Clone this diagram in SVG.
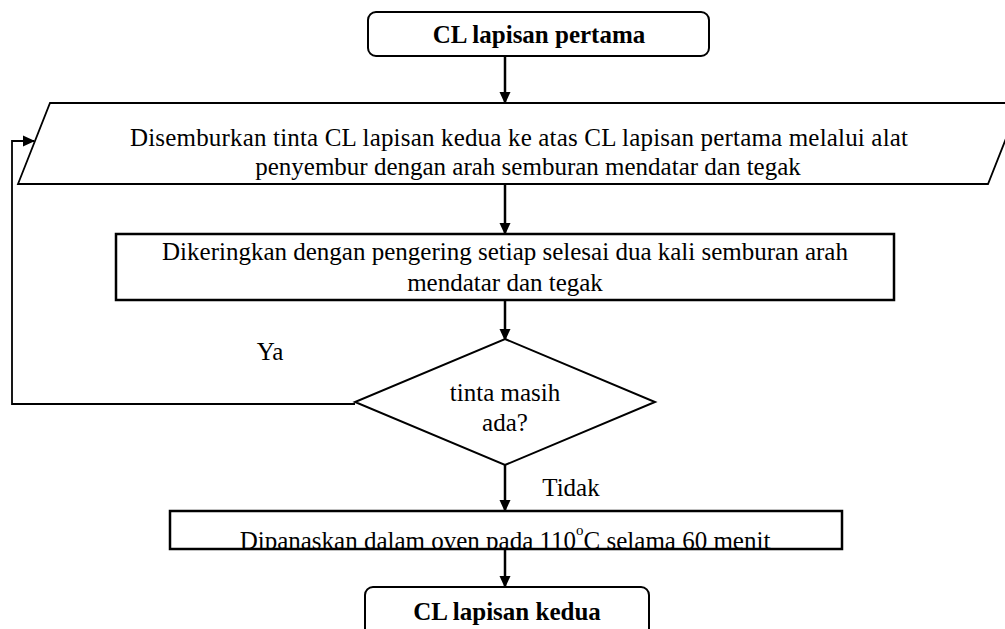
<svg xmlns="http://www.w3.org/2000/svg" width="1005" height="629" viewBox="0 0 1005 629">
<style>
.t{font-family:"Liberation Serif","Times New Roman",serif;font-size:25px;fill:#000;text-anchor:middle}
.b{font-weight:bold}
.s{fill:#fff;stroke:#000;stroke-width:2}
.c{fill:none;stroke:#000;stroke-width:2.5}
.l{fill:none;stroke:#000;stroke-width:1.8}
</style>
<defs>
<marker id="ah2" markerWidth="12" markerHeight="12" refX="11" refY="6" orient="auto" markerUnits="userSpaceOnUse" viewBox="0 0 12 12">
<path d="M0,0.5 L12,6 L0,11.5 Z" fill="#000"/>
</marker>
<clipPath id="cp"><rect x="170" y="511" width="672" height="38"/></clipPath>
</defs>
<rect width="1005" height="629" fill="#fff"/>
<g id="connectors">
<line class="c" x1="505" y1="56" x2="505" y2="103" marker-end="url(#ah2)"/>
<line class="c" x1="505" y1="184" x2="505" y2="234" marker-end="url(#ah2)"/>
<line class="c" x1="505" y1="300" x2="505" y2="340" marker-end="url(#ah2)"/>
<line class="c" x1="505" y1="465" x2="505" y2="511" marker-end="url(#ah2)"/>
<line class="c" x1="505" y1="549" x2="505" y2="587" marker-end="url(#ah2)"/>
<polyline class="l" points="355,404 12,404 12,141 34,141" marker-end="url(#ah2)"/>
<text class="t" x="270" y="360">Ya</text>
<text class="t" x="571" y="496">Tidak</text>
</g>
<g id="start">
<rect class="s" x="368" y="12" width="341" height="44" rx="8"/>
<text class="t b" x="539" y="43">CL lapisan pertama</text>
</g>
<g id="spray">
<polygon class="s" points="50,103 1020,103 988,184 18,184" style="stroke-width:1.8"/>
<text class="t" x="519" y="146" textLength="778" lengthAdjust="spacing">Disemburkan tinta CL lapisan kedua ke atas CL lapisan pertama melalui alat</text>
<text class="t" x="528" y="175">penyembur dengan arah semburan mendatar dan tegak</text>
</g>
<g id="dry">
<rect class="s" x="116" y="234" width="778" height="66" style="stroke-width:2.5"/>
<text class="t" x="505" y="260">Dikeringkan dengan pengering setiap selesai dua kali semburan arah</text>
<text class="t" x="505" y="291">mendatar dan tegak</text>
</g>
<g id="decision">
<polygon class="s" points="505,339 655,402 505,465 355,402"/>
<text class="t" x="505" y="401">tinta masih</text>
<text class="t" x="505" y="431">ada?</text>
</g>
<g id="oven">
<rect class="s" x="170" y="511" width="672" height="38" style="stroke-width:2.5"/>
<text class="t" x="505" y="549" clip-path="url(#cp)">Dipanaskan dalam oven pada 110<tspan dy="-14" font-size="15">o</tspan><tspan dy="14">C selama 60 menit</tspan></text>
</g>
<g id="end">
<rect class="s" x="365" y="587" width="284" height="60" rx="8"/>
<text class="t b" x="507" y="620">CL lapisan kedua</text>
</g>
</svg>
